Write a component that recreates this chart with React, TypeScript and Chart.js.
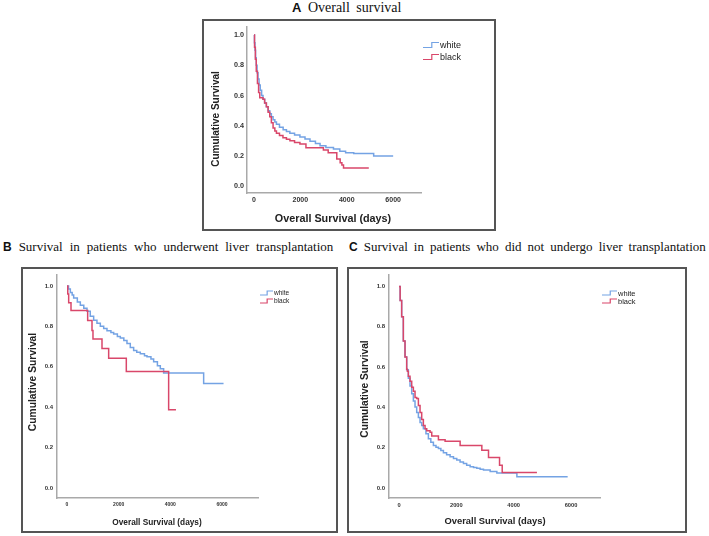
import React, { useEffect, useRef } from "react";
import { Chart, registerables } from "chart.js";
Chart.register(...registerables);

// ---------- shared axis / series data ----------
const xTicks = [0, 2000, 4000, 6000];
const yTicks = [0, 0.2, 0.4, 0.6, 0.8, 1.0];
const seriesNames = ["white", "black"];
const seriesColors = ["#74a3e4", "#d9476a"];

// ---------- Panel A: Overall survival ----------
const timeA_white = [0, 20, 45, 70, 100, 135, 175, 220, 270, 330, 390, 460, 535, 610, 680, 750, 824, 900, 969, 1100, 1258, 1400, 1547, 1750, 1981, 2200, 2415, 2650, 2849, 3100, 3427, 3700, 3950, 4300, 5160, 6000];
const survA_white = [1.0, 0.95, 0.9, 0.85, 0.8, 0.75, 0.71, 0.67, 0.635, 0.6, 0.575, 0.55, 0.525, 0.5, 0.48, 0.46, 0.44, 0.425, 0.41, 0.39, 0.374, 0.362, 0.35, 0.338, 0.326, 0.312, 0.298, 0.282, 0.268, 0.256, 0.246, 0.232, 0.222, 0.217, 0.2, 0.2];
const timeA_black = [0, 25, 60, 100, 150, 200, 250, 390, 460, 535, 610, 680, 750, 824, 900, 969, 1100, 1250, 1400, 1550, 1750, 1981, 2241, 2993, 3200, 3570, 3716, 3790, 3860, 4950];
const survA_black = [1.0, 0.92, 0.84, 0.76, 0.68, 0.62, 0.585, 0.575, 0.55, 0.525, 0.49, 0.46, 0.42, 0.385, 0.365, 0.35, 0.335, 0.32, 0.31, 0.3, 0.29, 0.28, 0.255, 0.24, 0.222, 0.18, 0.155, 0.14, 0.12, 0.12];

// ---------- Panel B: liver transplantation ----------
const timeB_white = [0, 60, 129, 200, 258, 400, 516, 650, 774, 900, 1032, 1160, 1290, 1420, 1548, 1700, 1806, 1950, 2064, 2200, 2322, 2450, 2580, 2700, 2838, 3000, 3096, 3250, 3354, 3500, 3612, 3741, 5290, 6060];
const survB_white = [1.0, 0.985, 0.967, 0.955, 0.94, 0.92, 0.905, 0.89, 0.875, 0.85, 0.83, 0.815, 0.8, 0.79, 0.778, 0.77, 0.762, 0.75, 0.742, 0.73, 0.715, 0.695, 0.68, 0.672, 0.665, 0.655, 0.65, 0.638, 0.625, 0.605, 0.59, 0.569, 0.517, 0.517];
const timeB_black = [0, 30, 65, 155, 800, 968, 1006, 1355, 1613, 2296, 3935, 4218];
const survB_black = [1.0, 0.96, 0.917, 0.878, 0.829, 0.78, 0.737, 0.69, 0.642, 0.577, 0.387, 0.387];

// ---------- Panel C: no liver transplantation ----------
const timeC_white = [0, 40, 93, 151, 210, 268, 326, 384, 443, 501, 559, 617, 676, 734, 792, 850, 940, 1025, 1110, 1200, 1290, 1375, 1460, 1549, 1660, 1782, 1900, 2015, 2130, 2248, 2360, 2481, 2600, 2714, 2830, 2947, 3180, 3413, 4112, 5883];
const survC_white = [1.0, 0.93, 0.85, 0.73, 0.65, 0.587, 0.545, 0.506, 0.468, 0.432, 0.402, 0.375, 0.35, 0.326, 0.31, 0.294, 0.27, 0.245, 0.228, 0.212, 0.203, 0.196, 0.186, 0.176, 0.165, 0.155, 0.147, 0.139, 0.13, 0.122, 0.114, 0.106, 0.102, 0.098, 0.094, 0.09, 0.082, 0.075, 0.057, 0.057];
const timeC_black = [0, 40, 93, 151, 210, 268, 291, 326, 384, 443, 501, 559, 617, 676, 734, 792, 850, 909, 967, 1083, 1142, 1375, 1608, 2132, 2889, 3122, 3507, 3600, 4811];
const survC_black = [1.0, 0.93, 0.85, 0.73, 0.65, 0.59, 0.58, 0.555, 0.53, 0.5, 0.48, 0.45, 0.445, 0.41, 0.375, 0.34, 0.31, 0.294, 0.285, 0.277, 0.258, 0.24, 0.232, 0.212, 0.188, 0.152, 0.114, 0.078, 0.078];

const toPoints = (t: number[], s: number[]) => t.map((v, i) => ({ x: v, y: s[i] }));

const stepLegend = {
  id: "stepLegend",
  afterDraw(chart: any) {
    const o = chart.options.plugins.stepLegend;
    const ctx = chart.ctx;
    chart.data.datasets.forEach((ds: any, i: number) => {
      const yy = o.y + i * o.gap;
      ctx.save();
      ctx.strokeStyle = ds.borderColor;
      ctx.lineWidth = 1.2;
      ctx.beginPath();
      ctx.moveTo(o.x, yy + o.h / 2);
      ctx.lineTo(o.x + o.w * 0.55, yy + o.h / 2);
      ctx.lineTo(o.x + o.w * 0.55, yy - o.h / 2);
      ctx.lineTo(o.x + o.w, yy - o.h / 2);
      ctx.stroke();
      ctx.fillStyle = "#222";
      ctx.font = o.font;
      ctx.textBaseline = "middle";
      ctx.textAlign = "left";
      ctx.fillText(ds.label, o.x + o.w + 1, yy + 0.5);
      ctx.restore();
    });
  },
};

type Spec = {
  left: number; top: number; w: number; h: number;
  wy: number; padTop: number; padRight: number; hx: number; padBottom: number;
  xMin: number; xMax: number; yMin: number; yMax: number;
  xFont: number; yFont: number; tickPad: number;
  legend: { x: number; y: number; gap: number; w: number; h: number; font: string };
  series: { x: number; y: number }[][];
};

function Panel({ spec }: { spec: Spec }) {
  const ref = useRef<HTMLCanvasElement>(null);
  useEffect(() => {
    if (!ref.current) return;
    const chart = new Chart(ref.current, {
      type: "line",
      data: {
        datasets: spec.series.map((d, i) => ({
          label: seriesNames[i],
          data: d,
          borderColor: seriesColors[i],
          backgroundColor: seriesColors[i],
          borderWidth: 1.5,
          pointRadius: 0,
          stepped: "before" as const,
          fill: false,
          order: i === 0 ? 2 : 1,
        })),
      },
      options: {
        responsive: false,
        animation: false,
        layout: { padding: { left: 0, top: spec.padTop, right: spec.padRight, bottom: spec.padBottom } },
        plugins: {
          legend: { display: false },
          tooltip: { enabled: false },
          stepLegend: spec.legend,
        } as any,
        scales: {
          x: {
            type: "linear",
            min: spec.xMin,
            max: spec.xMax,
            grid: { display: false, drawTicks: false },
            border: { display: true, color: "#a9a9a9", width: 1.5 },
            afterBuildTicks: (s: any) => { s.ticks = xTicks.map((v) => ({ value: v })); },
            afterFit: (s: any) => { s.height = spec.hx; },
            ticks: {
              autoSkip: false, maxRotation: 0, padding: spec.tickPad, color: "#333",
              font: { family: "'Liberation Sans', Arial, sans-serif", size: spec.xFont, weight: "bold" },
              callback: (v: any) => String(v),
            },
          },
          y: {
            type: "linear",
            min: spec.yMin,
            max: spec.yMax,
            grid: { display: false, drawTicks: false },
            border: { display: true, color: "#a9a9a9", width: 1.5 },
            afterBuildTicks: (s: any) => { s.ticks = yTicks.map((v) => ({ value: v })); },
            afterFit: (s: any) => { s.width = spec.wy; },
            ticks: {
              autoSkip: false, padding: spec.tickPad, color: "#333",
              font: { family: "'Liberation Sans', Arial, sans-serif", size: spec.yFont, weight: "bold" },
              callback: (v: any) => Number(v).toFixed(1),
            },
          },
        },
      },
      plugins: [stepLegend],
    });
    return () => chart.destroy();
  }, [spec]);
  return (
    <>
      <canvas ref={ref} width={spec.w} height={spec.h}
        style={{ position: "absolute", left: spec.left, top: spec.top, width: spec.w, height: spec.h }} />
      <div style={{ position: "absolute", left: spec.left, top: spec.top, width: spec.w, height: spec.h,
        boxSizing: "border-box", border: "2px solid #555", pointerEvents: "none" }} />
    </>
  );
}

const specA: Spec = {
  left: 202, top: 19, w: 294, h: 212, wy: 45, padTop: 4, padRight: 75, hx: 20, padBottom: 18,
  xMin: -300, xMax: 7200, yMin: -0.045, yMax: 1.058, xFont: 7, yFont: 7.2, tickPad: 3,
  legend: { x: 221, y: 26, gap: 12, w: 16, h: 5, font: "9px 'Liberation Sans', Arial, sans-serif" },
  series: [toPoints(timeA_white, survA_white), toPoints(timeA_black, survA_black)],
};
const specB: Spec = {
  left: 21, top: 267, w: 317, h: 266, wy: 36, padTop: 5, padRight: 80, hx: 20, padBottom: 15,
  xMin: -387, xMax: 7394, yMin: -0.049, yMax: 1.056, xFont: 5, yFont: 6, tickPad: 4,
  legend: { x: 239, y: 26, gap: 8, w: 13, h: 4, font: "6.5px 'Liberation Sans', Arial, sans-serif" },
  series: [toPoints(timeB_white, survB_white), toPoints(timeB_black, survB_black)],
};
const specC: Spec = {
  left: 347, top: 267, w: 340, h: 266, wy: 42, padTop: 5, padRight: 87, hx: 20, padBottom: 15,
  xMin: -349, xMax: 7011, yMin: -0.049, yMax: 1.059, xFont: 5.7, yFont: 6, tickPad: 4,
  legend: { x: 255, y: 26, gap: 8, w: 15, h: 4, font: "7.5px 'Liberation Sans', Arial, sans-serif" },
  series: [toPoints(timeC_white, survC_white), toPoints(timeC_black, survC_black)],
};

const sans = "'Liberation Sans', Arial, sans-serif";
const serif = "'Liberation Serif', 'Times New Roman', serif";

function AxisTitle({ text, cx, cy, size, vertical }: { text: string; cx: number; cy: number; size: number; vertical?: boolean }) {
  return (
    <div style={{ position: "absolute", left: cx, top: cy, whiteSpace: "nowrap", fontFamily: sans, fontWeight: "bold",
      fontSize: size, color: "#222", lineHeight: 1,
      transform: `translate(-50%, -50%)${vertical ? " rotate(-90deg)" : ""}` }}>{text}</div>
  );
}

function PanelTitle({ letter, text, left, top, size, wordSpacing }: { letter: string; text: string; left: number; top: number; size: number; wordSpacing: number }) {
  return (
    <div style={{ position: "absolute", left, top, whiteSpace: "nowrap", fontFamily: serif, fontSize: size, color: "#111",
      lineHeight: 1, wordSpacing }}>
      <span style={{ fontFamily: sans, fontWeight: "bold", fontSize: size - 1 }}>{letter}</span>
      {"  "}{text}
    </div>
  );
}

export default function App() {
  return (
    <div style={{ position: "absolute", left: 0, top: 0, width: 709, height: 536, background: "#fff", overflow: "hidden" }}>
      <PanelTitle letter="A" text="Overall survival" left={292} top={1} size={14} wordSpacing={3} />
      <PanelTitle letter="B" text="Survival in patients who underwent liver transplantation" left={3} top={240} size={13} wordSpacing={3.7} />
      <PanelTitle letter="C" text="Survival in patients who did not undergo liver transplantation" left={349} top={240} size={13} wordSpacing={2.8} />
      <Panel spec={specA} />
      <Panel spec={specB} />
      <Panel spec={specC} />
      <AxisTitle text="Cumulative Survival" cx={216} cy={119} size={10} vertical />
      <AxisTitle text="Overall Survival (days)" cx={333} cy={218} size={10.8} />
      <AxisTitle text="Cumulative Survival" cx={33} cy={382} size={10.3} vertical />
      <AxisTitle text="Overall Survival (days)" cx={157} cy={522} size={8.3} />
      <AxisTitle text="Cumulative Survival" cx={365} cy={389} size={10.2} vertical />
      <AxisTitle text="Overall Survival (days)" cx={495} cy={521} size={9.4} />
    </div>
  );
}
